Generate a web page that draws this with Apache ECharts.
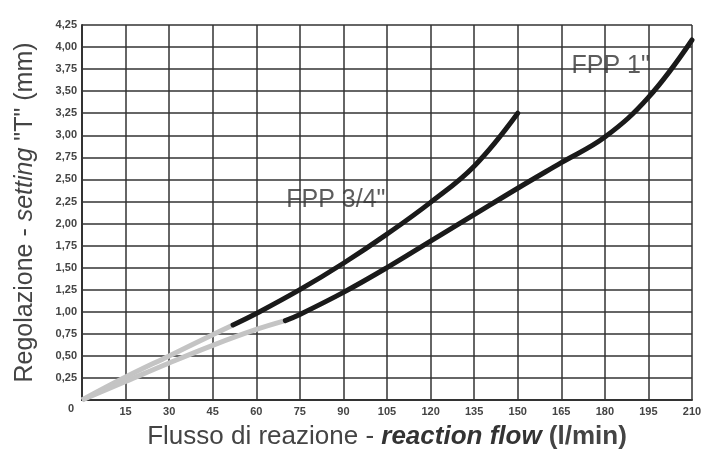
<!DOCTYPE html>
<html><head><meta charset="utf-8">
<script src="https://cdn.jsdelivr.net/npm/echarts@6/dist/echarts.min.js"></script>
<style>html,body{margin:0;padding:0;background:#fff}#c{width:706px;height:453px}</style>
</head><body><div id="c"></div>
<script>
const xTicks = [0,15,30,45,60,75,90,105,120,135,150,165,180,195,210];
const yTicks = [0,0.25,0.5,0.75,1,1.25,1.5,1.75,2,2.25,2.5,2.75,3,3.25,3.5,3.75,4,4.25];
// FPP 3/4"
const fpp34GrayX = [0,15,30,45,52];
const fpp34GrayY = [0,0.26,0.5,0.74,0.85];
const fpp34BlackX = [52,60,75,90,105,120,135,150];
const fpp34BlackY = [0.85,0.98,1.25,1.55,1.88,2.24,2.65,3.25];
// FPP 1"
const fpp1GrayX = [0,15,30,45,60,70];
const fpp1GrayY = [0,0.21,0.42,0.62,0.8,0.9];
const fpp1BlackX = [70,75,90,105,120,135,150,165,180,195,210];
const fpp1BlackY = [0.9,0.97,1.22,1.5,1.8,2.1,2.4,2.69,2.98,3.43,4.08];
const labels = [
  {name:'FPP 3/4"', x:87.4, y:2.26},
  {name:'FPP 1"', x:182, y:3.78}
];
const zip = (a,b)=>a.map((v,i)=>[v,b[i]]);
const chart = echarts.init(document.getElementById('c'));
const lineCommon = {type:'line', smooth:0.4, showSymbol:false, symbol:'none', silent:true};
const lblFont = 'Liberation Sans Narrow, Liberation Sans, Arial';
chart.setOption({
  animation:false,
  grid:{left:82, right:14, top:25, bottom:53, containLabel:false, outerBoundsMode:'none'},
  xAxis:{type:'value', min:0, max:210, interval:15,
    name:'{a|Flusso di reazione - }{b|reaction flow}{c| (l/min)}',
    nameLocation:'middle', nameGap:24,
    nameTextStyle:{rich:{
      a:{fontSize:26, color:'#444', fontFamily:'Liberation Sans, Arial'},
      b:{fontSize:26, color:'#333', fontStyle:'italic', fontWeight:'bold', fontFamily:'Liberation Sans, Arial'},
      c:{fontSize:26, color:'#444', fontWeight:'bold', fontFamily:'Liberation Sans, Arial'}}},
    axisLine:{show:true, lineStyle:{color:'#333', width:2}},
    axisTick:{show:false},
    axisLabel:{color:'#444', fontSize:11, fontWeight:'bold', fontFamily:lblFont, margin:6,
      formatter:v=> v===0 ? '' : String(v)},
    splitLine:{show:true, lineStyle:{color:'#333', width:1.5}}
  },
  yAxis:{type:'value', min:0, max:4.25, interval:0.25,
    name:'{a|Regolazione - }{b|setting}{a| "T" (mm)}',
    nameLocation:'middle', nameGap:44, nameRotate:90,
    nameTextStyle:{rich:{
      a:{fontSize:25, color:'#444', fontFamily:'Liberation Sans, Arial'},
      b:{fontSize:25, color:'#444', fontStyle:'italic', fontFamily:'Liberation Sans, Arial'}}},
    axisLine:{show:true, lineStyle:{color:'#333', width:2}},
    axisTick:{show:false},
    axisLabel:{color:'#444', fontSize:11, fontWeight:'bold', fontFamily:lblFont, margin:5,
      formatter:v=> v===0 ? '' : v.toFixed(2).replace('.',',')},
    splitLine:{show:true, lineStyle:{color:'#333', width:1.5}}
  },
  series:[
    Object.assign({}, lineCommon, {data:zip(fpp34GrayX,fpp34GrayY), lineStyle:{color:'#c4c4c4', width:5}}),
    Object.assign({}, lineCommon, {data:zip(fpp1GrayX,fpp1GrayY), lineStyle:{color:'#c4c4c4', width:5}}),
    Object.assign({}, lineCommon, {data:zip(fpp34BlackX,fpp34BlackY), lineStyle:{color:'#1a1a1a', width:5, cap:'round'}}),
    Object.assign({}, lineCommon, {data:zip(fpp1BlackX,fpp1BlackY), lineStyle:{color:'#1a1a1a', width:5, cap:'round'}}),
    {type:'scatter', symbolSize:0, silent:true,
     data:labels.map(l=>({name:l.name, value:[l.x,l.y]})),
     label:{show:true, position:'inside', formatter:p=>p.name, fontSize:25, color:'#333', fontFamily:'Liberation Sans, Arial'}}
  ],
  graphic:[{type:'text', left:68, top:403, style:{text:'0', fontSize:11, fontWeight:'bold', fill:'#444', fontFamily:lblFont}}]
});
</script></body></html>
